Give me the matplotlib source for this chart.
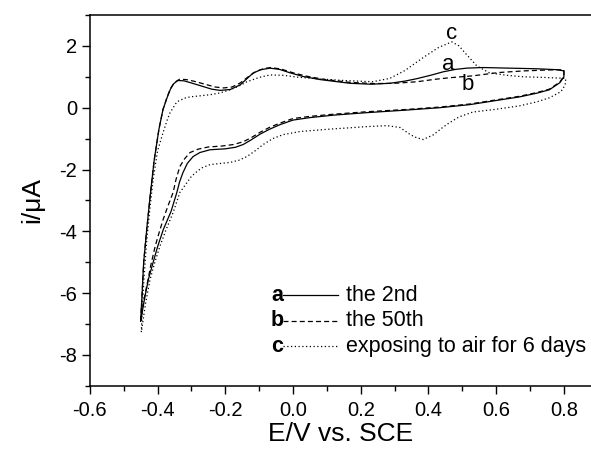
from matplotlib import pyplot as plt
from matplotlib.ticker import MultipleLocator

plt.rcParams['font.family'] = ['Liberation Sans', 'DejaVu Sans']

# curve a: the 2nd cycle (upper branch then lower branch)
xa = [-0.450, -0.446, -0.441, -0.432, -0.422, -0.410, -0.396, -0.384, -0.372, -0.362, -0.352, -0.340,
      -0.322, -0.300, -0.270, -0.240, -0.215, -0.185, -0.156, -0.135, -0.118, -0.095, -0.068, -0.040,
      -0.009, 0.030, 0.080, 0.168, 0.230, 0.286, 0.330, 0.366, 0.410, 0.443, 0.480, 0.513, 0.560,
      0.640, 0.720, 0.780, 0.800,
      0.800, 0.788, 0.757, 0.720, 0.669, 0.610, 0.522, 0.433, 0.330, 0.218, 0.120, 0.050, 0.000,
      -0.039, -0.070, -0.098, -0.125, -0.147, -0.170, -0.200, -0.245, -0.275, -0.295, -0.312, -0.325,
      -0.335, -0.343, -0.360, -0.383, -0.400, -0.413, -0.427, -0.437, -0.450]
ya = [-6.90, -6.10, -5.00, -3.94, -2.87, -1.70, -0.70, -0.06, 0.32, 0.60, 0.78, 0.88,
      0.87, 0.80, 0.70, 0.60, 0.56, 0.59, 0.74, 0.95, 1.12, 1.23, 1.28, 1.24,
      1.13, 1.01, 0.91, 0.79, 0.76, 0.79, 0.86, 0.94, 1.06, 1.16, 1.24, 1.28, 1.30,
      1.28, 1.26, 1.23, 1.19,
      1.00, 0.81, 0.58, 0.47, 0.35, 0.25, 0.10, 0.00, -0.08, -0.16, -0.24, -0.32, -0.40,
      -0.55, -0.70, -0.86, -1.05, -1.19, -1.28, -1.33, -1.36, -1.45, -1.58, -1.80, -2.10,
      -2.40, -2.74, -3.35, -3.94, -4.50, -5.00, -5.55, -6.10, -6.90]

# curve b: the 50th cycle
xb = [-0.450, -0.446, -0.441, -0.432, -0.422, -0.410, -0.396, -0.384, -0.372, -0.362, -0.350, -0.335,
      -0.315, -0.290, -0.260, -0.230, -0.205, -0.180, -0.156, -0.130, -0.110, -0.085, -0.065, -0.035,
      0.000, 0.040, 0.090, 0.168, 0.240, 0.300, 0.366, 0.420, 0.463, 0.530, 0.610, 0.680, 0.750, 0.800,
      0.800, 0.788, 0.757, 0.720, 0.669, 0.610, 0.522, 0.433, 0.330, 0.218, 0.120, 0.050, 0.000,
      -0.039, -0.070, -0.098, -0.125, -0.147, -0.175, -0.210, -0.250, -0.280, -0.304, -0.320, -0.334,
      -0.345, -0.354, -0.370, -0.383, -0.397, -0.407, -0.420, -0.428, -0.440, -0.450]
yb = [-6.90, -6.10, -5.00, -3.94, -2.87, -1.70, -0.70, -0.06, 0.34, 0.62, 0.82, 0.92,
      0.91, 0.85, 0.76, 0.67, 0.64, 0.67, 0.80, 1.02, 1.17, 1.27, 1.30, 1.25,
      1.13, 1.02, 0.92, 0.82, 0.78, 0.79, 0.84, 0.92, 0.97, 1.03, 1.14, 1.19, 1.22, 1.23,
      1.02, 0.83, 0.60, 0.49, 0.37, 0.27, 0.12, 0.02, -0.06, -0.13, -0.21, -0.28, -0.35,
      -0.50, -0.64, -0.80, -0.98, -1.10, -1.19, -1.24, -1.27, -1.34, -1.45, -1.65, -1.90,
      -2.30, -2.74, -3.20, -3.60, -4.10, -4.48, -5.10, -5.55, -6.20, -6.90]

# curve c: after exposing to air for 6 days
xc = [-0.448, -0.445, -0.440, -0.432, -0.422, -0.413, -0.400, -0.384, -0.370, -0.363, -0.343, -0.320,
      -0.304, -0.270, -0.245, -0.215, -0.186, -0.160, -0.136, -0.100, -0.068, -0.030, 0.012, 0.080,
      0.150, 0.236, 0.286, 0.330, 0.384, 0.430, 0.469, 0.490, 0.510, 0.543, 0.580, 0.630, 0.680,
      0.740, 0.805,
      0.805, 0.797, 0.788, 0.757, 0.720, 0.669, 0.600, 0.531, 0.490, 0.460, 0.443, 0.414, 0.384,
      0.360, 0.345, 0.316, 0.277, 0.220, 0.168, 0.100, 0.021, -0.029, -0.060, -0.088, -0.110,
      -0.136, -0.160, -0.186, -0.245, -0.270, -0.283, -0.300, -0.313, -0.334, -0.354, -0.375,
      -0.393, -0.408, -0.422, -0.435, -0.448]
yc = [-7.26, -6.50, -5.50, -4.30, -3.20, -2.32, -1.40, -0.81, -0.35, -0.16, 0.19, 0.31,
      0.35, 0.39, 0.42, 0.48, 0.58, 0.70, 0.84, 0.98, 1.06, 1.05, 0.99, 0.93,
      0.88, 0.84, 0.95, 1.20, 1.62, 1.95, 2.13, 2.00, 1.75, 1.35, 1.13, 1.05, 1.00,
      0.98, 0.95,
      0.80, 0.60, 0.50, 0.32, 0.19, 0.06, -0.05, -0.14, -0.30, -0.50, -0.63, -0.88, -1.03,
      -0.95, -0.86, -0.64, -0.58, -0.61, -0.65, -0.70, -0.77, -0.87, -1.00, -1.19, -1.38,
      -1.58, -1.70, -1.77, -1.84, -1.95, -2.06, -2.22, -2.42, -2.74, -3.39, -3.95,
      -4.48, -5.00, -5.55, -6.30, -7.26]

letters = ['a', 'b', 'c']
labels = ['the 2nd', 'the 50th', 'exposing to air for 6 days']
styles = ['-', (0, (4, 2.5)), (0, (1, 2))]

fig = plt.figure(figsize=(5.91, 4.54), dpi=100)
ax = fig.add_axes([0.152, 0.150, 0.848, 0.817])

for x, y, ls in zip([xa, xb, xc], [ya, yb, yc], styles):
    ax.plot(x, y, color='black', linestyle=ls, linewidth=0.9)

# curve letters next to the peaks
ax.text(0.457, 1.39, 'a', fontsize=16, ha='center', va='center')
ax.text(0.516, 0.74, 'b', fontsize=16, ha='center', va='center')
ax.text(0.469, 2.40, 'c', fontsize=16, ha='center', va='center')

# hand-made legend
for i, (let, lab, ls) in enumerate(zip(letters, labels, styles)):
    fy = 0.245 - i * 0.069
    ax.text(0.386, fy, let, transform=ax.transAxes, fontsize=15.5, fontweight='bold',
            ha='right', va='center')
    ax.plot([0.386, 0.495], [fy, fy], transform=ax.transAxes, color='black',
            linestyle=ls, linewidth=0.9)
    ax.text(0.511, fy, lab, transform=ax.transAxes, fontsize=15.5, ha='left', va='center')

ax.set_xlim(-0.6, 0.88)
ax.set_ylim(-9, 3)
ax.xaxis.set_minor_locator(MultipleLocator(0.1))
ax.yaxis.set_minor_locator(MultipleLocator(1))
ax.set_xticks([-0.6, -0.4, -0.2, 0.0, 0.2, 0.4, 0.6, 0.8])
ax.set_xticklabels(['-0.6', '-0.4', '-0.2', '0.0', '0.2', '0.4', '0.6', '0.8'])
ax.set_yticks([-8, -6, -4, -2, 0, 2])
ax.set_yticklabels(['-8', '-6', '-4', '-2', '0', '2'])
ax.tick_params(which='major', direction='out', length=6, width=1, labelsize=14.5, pad=3)
ax.tick_params(which='minor', direction='out', length=3.5, width=1)
ax.tick_params(axis='x', which='major', pad=5)
ax.spines['right'].set_visible(False)
for s in ['left', 'bottom', 'top']:
    ax.spines[s].set_linewidth(1.1)

ax.set_xlabel('E/V vs. SCE', fontsize=19, labelpad=1)
ax.set_ylabel('i/\u03bcA', fontsize=19, labelpad=11)

fig.savefig('out.png', dpi=100)
